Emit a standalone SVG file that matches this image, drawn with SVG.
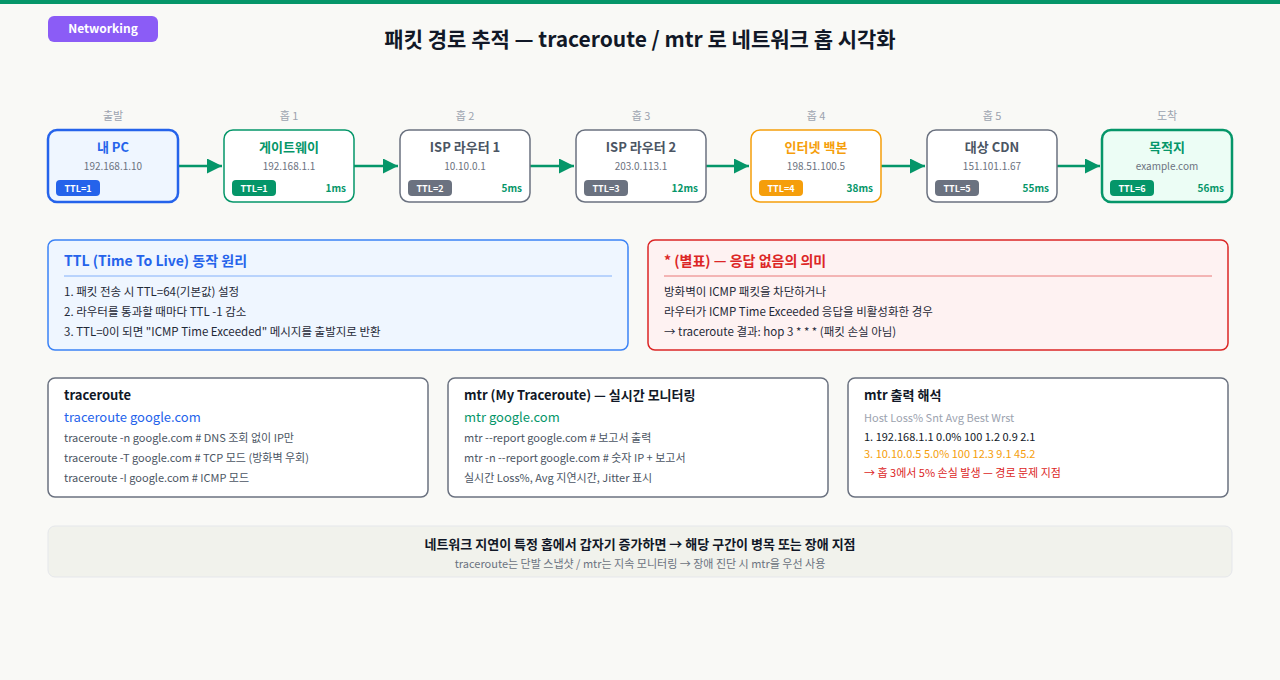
<svg xmlns="http://www.w3.org/2000/svg" width="1280" height="680" viewBox="0 0 1280 680">
<style>
text{font-family:"Noto Sans CJK KR","Noto Sans",sans-serif}
.lbl{font-size:11px;fill:#9ca3af;text-anchor:middle}
.nt{font-size:13px;font-weight:700;text-anchor:middle}
.ip{font-size:10px;fill:#6b7280;text-anchor:middle}
.ttl{font-size:9px;font-weight:700;fill:#fff;text-anchor:middle}
.ms{font-size:10px;font-weight:700;fill:#059669;text-anchor:end}
.card{fill:#fff;stroke:#6b7280;stroke-width:1.5}
.ct{font-size:13px;font-weight:700;fill:#111827}
.cl{font-size:11px;fill:#4b5563}
.pl{font-size:11.5px;fill:#1f2937}
</style>
<defs><marker id="ar" viewBox="0 0 10 10" refX="10" refY="5" markerWidth="6" markerHeight="6" orient="auto"><path d="M0,0L10,5L0,10z" fill="#059669"/></marker></defs>
<rect width="1280" height="680" fill="#f9f9f6"/>
<rect width="1280" height="4" fill="#059669"/>
<rect x="48" y="16" width="110" height="26" rx="6" fill="#8b5cf6"/>
<text x="103" y="33" font-size="12" font-weight="700" fill="#fff" text-anchor="middle">Networking</text>
<text x="640" y="47" font-size="21" font-weight="700" fill="#111827" text-anchor="middle">패킷 경로 추적 — traceroute / mtr 로 네트워크 홉 시각화</text>
<g id="connectors" stroke="#059669" stroke-width="2.5" marker-end="url(#ar)">
<line x1="178" y1="166" x2="222" y2="166"/><line x1="354" y1="166" x2="398" y2="166"/><line x1="530" y1="166" x2="574" y2="166"/><line x1="706" y1="166" x2="749" y2="166"/><line x1="881" y1="166" x2="925" y2="166"/><line x1="1057" y1="166" x2="1100" y2="166"/>
</g>
<g id="n0"><text class="lbl" x="113" y="120">출발</text><rect x="48" y="130" width="130" height="72" rx="9" fill="#eff6ff" stroke="#2563eb" stroke-width="2.5"/><text class="nt" x="113" y="152" fill="#2563eb">내 PC</text><text class="ip" x="113" y="170">192.168.1.10</text><rect x="56" y="180" width="44" height="16" rx="4" fill="#2563eb"/><text class="ttl" x="78" y="192">TTL=1</text></g>
<g id="n1"><text class="lbl" x="289" y="120">홉 1</text><rect x="224" y="130" width="130" height="72" rx="9" fill="#fff" stroke="#059669" stroke-width="1.5"/><text class="nt" x="289" y="152" fill="#059669">게이트웨이</text><text class="ip" x="289" y="170">192.168.1.1</text><rect x="232" y="180" width="44" height="16" rx="4" fill="#059669"/><text class="ttl" x="254" y="192">TTL=1</text><text class="ms" x="346" y="192">1ms</text></g>
<g id="n2"><text class="lbl" x="465" y="120">홉 2</text><rect x="400" y="130" width="130" height="72" rx="9" fill="#fff" stroke="#6b7280" stroke-width="1.5"/><text class="nt" x="465" y="152" fill="#4b5563">ISP 라우터 1</text><text class="ip" x="465" y="170">10.10.0.1</text><rect x="408" y="180" width="44" height="16" rx="4" fill="#6b7280"/><text class="ttl" x="430" y="192">TTL=2</text><text class="ms" x="522" y="192">5ms</text></g>
<g id="n3"><text class="lbl" x="641" y="120">홉 3</text><rect x="576" y="130" width="130" height="72" rx="9" fill="#fff" stroke="#6b7280" stroke-width="1.5"/><text class="nt" x="641" y="152" fill="#4b5563">ISP 라우터 2</text><text class="ip" x="641" y="170">203.0.113.1</text><rect x="584" y="180" width="44" height="16" rx="4" fill="#6b7280"/><text class="ttl" x="606" y="192">TTL=3</text><text class="ms" x="698" y="192">12ms</text></g>
<g id="n4"><text class="lbl" x="816" y="120">홉 4</text><rect x="751" y="130" width="130" height="72" rx="9" fill="#fff" stroke="#f59e0b" stroke-width="1.5"/><text class="nt" x="816" y="152" fill="#f59e0b">인터넷 백본</text><text class="ip" x="816" y="170">198.51.100.5</text><rect x="759" y="180" width="44" height="16" rx="4" fill="#f59e0b"/><text class="ttl" x="781" y="192">TTL=4</text><text class="ms" x="873" y="192">38ms</text></g>
<g id="n5"><text class="lbl" x="992" y="120">홉 5</text><rect x="927" y="130" width="130" height="72" rx="9" fill="#fff" stroke="#6b7280" stroke-width="1.5"/><text class="nt" x="992" y="152" fill="#4b5563">대상 CDN</text><text class="ip" x="992" y="170">151.101.1.67</text><rect x="935" y="180" width="44" height="16" rx="4" fill="#6b7280"/><text class="ttl" x="957" y="192">TTL=5</text><text class="ms" x="1049" y="192">55ms</text></g>
<g id="n6"><text class="lbl" x="1167" y="120">도착</text><rect x="1102" y="130" width="130" height="72" rx="9" fill="#ecfdf5" stroke="#059669" stroke-width="2.5"/><text class="nt" x="1167" y="152" fill="#059669">목적지</text><text class="ip" x="1167" y="170">example.com</text><rect x="1110" y="180" width="44" height="16" rx="4" fill="#059669"/><text class="ttl" x="1132" y="192">TTL=6</text><text class="ms" x="1224" y="192">56ms</text></g>
<g id="ttlbox"><rect x="48" y="240" width="580" height="110" rx="7" fill="#eff6ff" stroke="#3b82f6" stroke-width="1.5"/><text x="64" y="266" font-size="14" font-weight="700" fill="#2563eb">TTL (Time To Live) 동작 원리</text><line x1="64" y1="276" x2="612" y2="276" stroke="#3b82f6" stroke-opacity="0.6"/><text class="pl" x="64" y="296">1. 패킷 전송 시 TTL=64(기본값) 설정</text><text class="pl" x="64" y="316">2. 라우터를 통과할 때마다 TTL -1 감소</text><text class="pl" x="64" y="336">3. TTL=0이 되면 "ICMP Time Exceeded" 메시지를 출발지로 반환</text></g>
<g id="starbox"><rect x="648" y="240" width="580" height="110" rx="7" fill="#fef2f2" stroke="#dc2626" stroke-width="1.5"/><text x="664" y="266" font-size="14" font-weight="700" fill="#dc2626">* (별표) — 응답 없음의 의미</text><line x1="664" y1="276" x2="1212" y2="276" stroke="#dc2626" stroke-opacity="0.6"/><text class="pl" x="664" y="296">방화벽이 ICMP 패킷을 차단하거나</text><text class="pl" x="664" y="316">라우터가 ICMP Time Exceeded 응답을 비활성화한 경우</text><text class="pl" x="664" y="336" fill="#4b5563">→ traceroute 결과: hop 3 * * * (패킷 손실 아님)</text></g>
<g id="tr"><rect class="card" x="48" y="378" width="380" height="119" rx="7"/><text class="ct" x="64" y="400">traceroute</text><text x="64" y="422" font-size="13" fill="#2563eb">traceroute google.com</text><text class="cl" x="64" y="442">traceroute -n google.com # DNS 조회 없이 IP만</text><text class="cl" x="64" y="462">traceroute -T google.com # TCP 모드 (방화벽 우회)</text><text class="cl" x="64" y="482">traceroute -I google.com # ICMP 모드</text></g>
<g id="mtr"><rect class="card" x="448" y="378" width="380" height="119" rx="7"/><text class="ct" x="464" y="400">mtr (My Traceroute) — 실시간 모니터링</text><text x="464" y="422" font-size="13" fill="#059669">mtr google.com</text><text class="cl" x="464" y="442">mtr --report google.com # 보고서 출력</text><text class="cl" x="464" y="462">mtr -n --report google.com # 숫자 IP + 보고서</text><text class="cl" x="464" y="482" fill="#9ca3af">실시간 Loss%, Avg 지연시간, Jitter 표시</text></g>
<g id="mtrout"><rect class="card" x="848" y="378" width="380" height="119" rx="7"/><text class="ct" x="864" y="400">mtr 출력 해석</text><text x="864" y="422" font-size="11" fill="#9ca3af">Host Loss% Snt Avg Best Wrst</text><text x="864" y="441" font-size="11" fill="#111827">1. 192.168.1.1 0.0% 100 1.2 0.9 2.1</text><text x="864" y="458" font-size="11" fill="#f59e0b">3. 10.10.0.5 5.0% 100 12.3 9.1 45.2</text><text x="864" y="477" font-size="11" fill="#dc2626">→ 홉 3에서 5% 손실 발생 — 경로 문제 지점</text></g>
<g id="footer"><rect x="48" y="526" width="1184" height="51" rx="7" fill="#f1f2ec" stroke="#e5e7eb"/><text x="640" y="549" font-size="13" font-weight="700" fill="#111827" text-anchor="middle">네트워크 지연이 특정 홉에서 갑자기 증가하면 → 해당 구간이 병목 또는 장애 지점</text><text x="640" y="568" font-size="11" fill="#6b7280" text-anchor="middle">traceroute는 단발 스냅샷 / mtr는 지속 모니터링 → 장애 진단 시 mtr을 우선 사용</text></g>
</svg>
